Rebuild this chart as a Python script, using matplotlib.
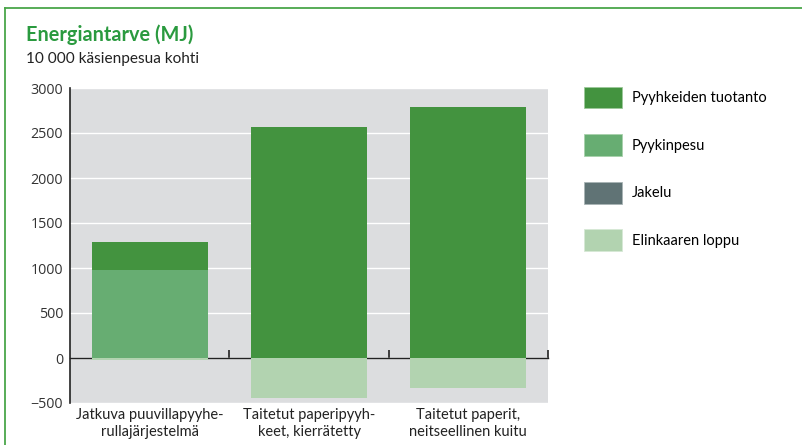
import numpy as np
import matplotlib
matplotlib.use('Agg')
import matplotlib.pyplot as plt
from matplotlib.lines import Line2D
from matplotlib.patches import Patch
from matplotlib import transforms

categories = ['Jatkuva puuvillapyyhe-\nrullajärjestelmä',
              'Taitetut paperipyyh-\nkeet, kierrätetty',
              'Taitetut paperit,\nneitseellinen kuitu']
pyykinpesu = [980, 0, 0]
tuotanto = [310, 2570, 2790]
jakelu = [0, 0, 0]
loppu = [-20, -440, -330]
yticks = [-500, 0, 500, 1000, 1500, 2000, 2500, 3000]

c_tuot = '#43933f'
c_pesu = '#67ad72'
c_jak = '#607375'
c_loppu = '#b2d3b0'
frame_green = '#4aa64a'

plt.rcParams['font.family'] = ['Lato', 'DejaVu Sans']

fig = plt.figure(figsize=(8.02, 4.45), dpi=100)
ax = fig.add_axes([70/802, 1-403/445, 478/802, 315/445])
ax.set_facecolor('#dcdddf')

x = np.arange(len(categories)) + 0.5
w = 0.73
pesu = np.array(pyykinpesu)
tuot = np.array(tuotanto)
jak = np.array(jakelu)
ax.bar(x, pesu, w, color=c_pesu, zorder=3)
ax.bar(x, tuot, w, bottom=pesu, color=c_tuot, zorder=3)
ax.bar(x, jak, w, bottom=pesu + tuot, color=c_jak, zorder=3)
ax.bar(x, loppu, w, color=c_loppu, zorder=3)

ax.set_xlim(0, 3)
ax.set_ylim(-500, 3000)
ax.set_yticks(yticks)
ax.set_yticklabels([str(v) if v >= 0 else '\u2212' + str(-v) for v in yticks],
                   fontfamily='Open Sans', fontsize=10.3, color='#333333')
ax.tick_params(axis='y', length=0, pad=5)
ax.grid(axis='y', color='white', linewidth=1.0, zorder=1)
ax.set_axisbelow(True)

ax.spines['top'].set_visible(False)
ax.spines['right'].set_visible(False)
ax.spines['left'].set_color('#222222')
ax.spines['left'].set_linewidth(1.2)
ax.spines['bottom'].set_position(('data', 0))
ax.spines['bottom'].set_color('#222222')
ax.spines['bottom'].set_linewidth(1.0)
ax.spines['bottom'].set_zorder(2)
ax.set_xticks([1, 2, 3])
ax.set_xticklabels([])
ax.tick_params(axis='x', direction='in', length=6, width=1.2, color='#222222')

trans = transforms.blended_transform_factory(ax.transData, ax.transAxes)
for xi, lab in zip(x, categories):
    ax.text(xi, -0.015, lab, transform=trans, ha='center', va='top',
            fontsize=10.5, color='#222222', linespacing=1.3)

fig.text(26/802, 1-35/445, 'Energiantarve (MJ)', fontsize=14.3, fontweight='bold',
         color='#2a9a3f', va='center')
fig.text(26/802, 1-59/445, '10 000 käsienpesua kohti', fontsize=11.1,
         color='#222222', va='center')

handles = [Patch(facecolor=c_tuot, edgecolor='#9cc99a', linewidth=0.6),
           Patch(facecolor=c_pesu, edgecolor='#a8d1ab', linewidth=0.6),
           Patch(facecolor=c_jak, edgecolor='#a8b4b5', linewidth=0.6),
           Patch(facecolor=c_loppu, edgecolor='#d6e8d5', linewidth=0.6)]
labels = ['Pyyhkeiden tuotanto', 'Pyykinpesu', 'Jakelu', 'Elinkaaren loppu']
fig.legend(handles, labels, loc='upper left', bbox_to_anchor=(578/802, 1-81/445),
           frameon=False, fontsize=10.5, handlelength=2.6, handleheight=1.9,
           labelspacing=1.78, handletextpad=0.7, borderaxespad=0)

fig.add_artist(Line2D([4.5/802, 4.5/802], [0, 1-7.5/445], transform=fig.transFigure,
                      color=frame_green, linewidth=1.3))
fig.add_artist(Line2D([4.5/802, 1], [1-7.5/445, 1-7.5/445], transform=fig.transFigure,
                      color=frame_green, linewidth=1.3))

fig.savefig('out.png', dpi=100)
